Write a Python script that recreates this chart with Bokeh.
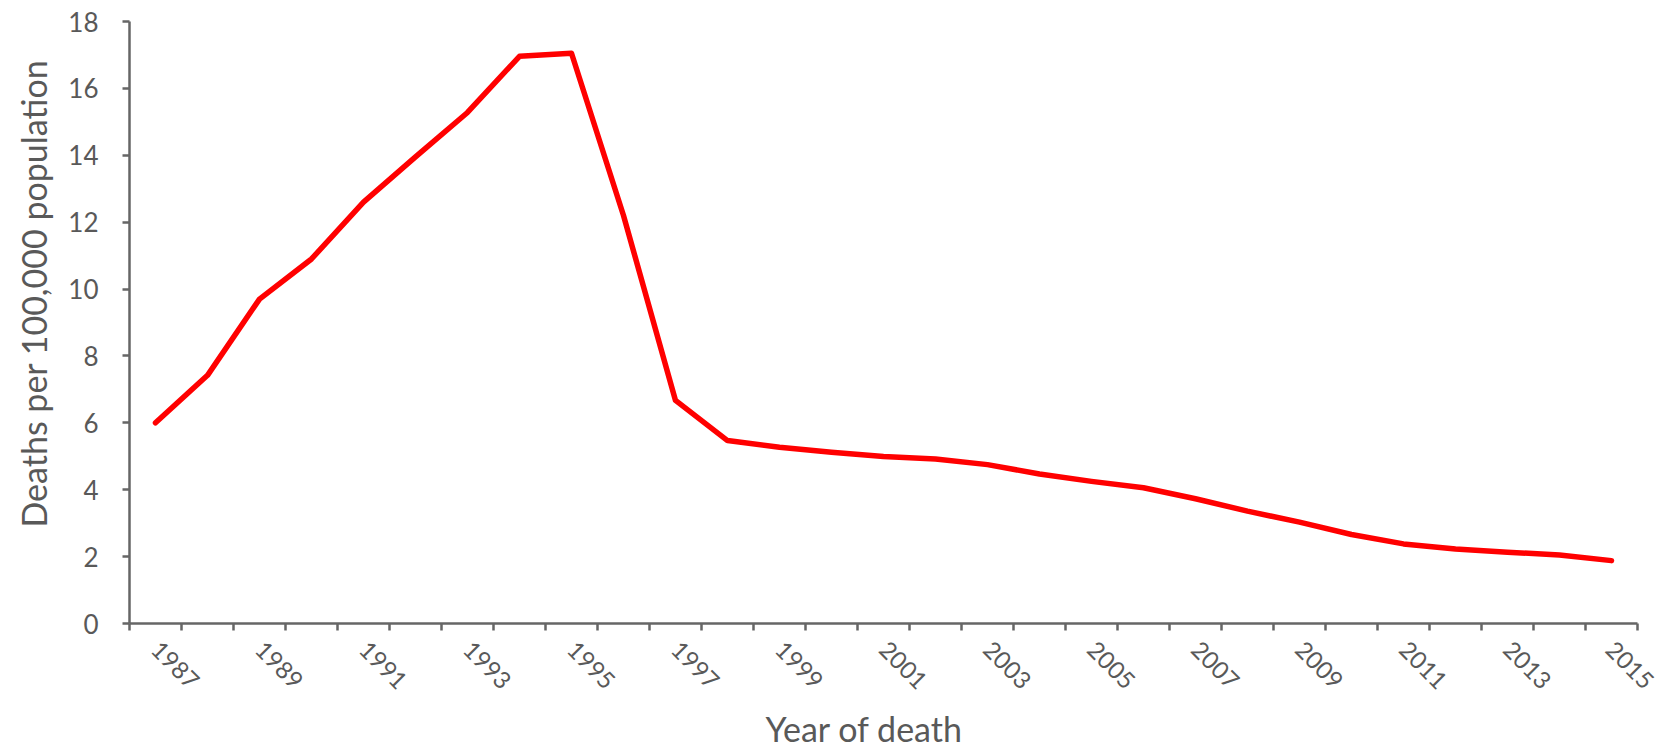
from bokeh.plotting import figure
from bokeh.models import FixedTicker, Range1d, Title
from bokeh.embed import file_html
from bokeh.resources import INLINE
import math

years = list(range(1987, 2016))
deaths = [6.0, 7.42, 9.7, 10.9, 12.6, 13.95, 15.28, 16.96, 17.05, 12.2,
          6.67, 5.47, 5.27, 5.12, 4.99, 4.92, 4.75, 4.47, 4.25, 4.06,
          3.73, 3.36, 3.03, 2.66, 2.38, 2.23, 2.13, 2.05, 1.88]
label_years = years[::2]
y_ticks = list(range(0, 19, 2))
x_title = "Year of death"
y_title = "Deaths per 100,000 population"

FONT = "Lato"
TXT = "#595959"
AX = "#666666"

p = figure(width=1655, height=756, output_backend="svg", toolbar_location=None,
           x_range=Range1d(years[0] - 0.5, years[-1] + 0.5),
           y_range=Range1d(0, 18),
           min_border_left=129, min_border_right=18, min_border_top=21,
           min_border_bottom=133)
p.outline_line_color = None
p.grid.visible = False
p.background_fill_color = "white"

p.line(years, deaths, line_color="#FF0000", line_width=5.5,
       line_join="round", line_cap="round")

# x axis
xa = p.xaxis[0]
xa.ticker = FixedTicker(ticks=label_years,
                        minor_ticks=[y - 0.5 for y in years] + [years[-1] + 0.5])
xa.major_label_overrides = {y: str(y) for y in label_years}
xa.major_tick_out = 0
xa.major_tick_in = 0
xa.minor_tick_out = 7
xa.minor_tick_in = 0
xa.minor_tick_line_color = AX
xa.minor_tick_line_width = 2.5
xa.axis_line_color = AX
xa.axis_line_width = 2.5
xa.major_label_orientation = -math.pi / 4
xa.major_label_standoff = 15
xa.major_label_text_font = FONT
xa.major_label_text_font_size = "24px"
xa.major_label_text_color = TXT

# y axis
ya = p.yaxis[0]
ya.ticker = FixedTicker(ticks=y_ticks)
ya.major_tick_out = 7
ya.major_tick_in = 0
ya.minor_tick_out = 0
ya.minor_tick_in = 0
ya.major_tick_line_color = AX
ya.major_tick_line_width = 2.5
ya.axis_line_color = AX
ya.axis_line_width = 2.5
ya.major_label_standoff = 24
ya.major_label_text_font = FONT
ya.major_label_text_font_size = "26px"
ya.major_label_text_color = TXT

# axis titles
xt = Title(text=x_title, align="left", offset=636, standoff=12,
           vertical_align="bottom",
           text_font=FONT, text_font_size="34px", text_font_style="normal",
           text_color=TXT)
p.add_layout(xt, "below")
yt = Title(text=y_title, align="left", offset=96, standoff=19,
           vertical_align="top",
           text_font=FONT, text_font_size="34px", text_font_style="normal",
           text_color=TXT)
p.add_layout(yt, "left")

open("out.html", "w").write(file_html(p, INLINE))
